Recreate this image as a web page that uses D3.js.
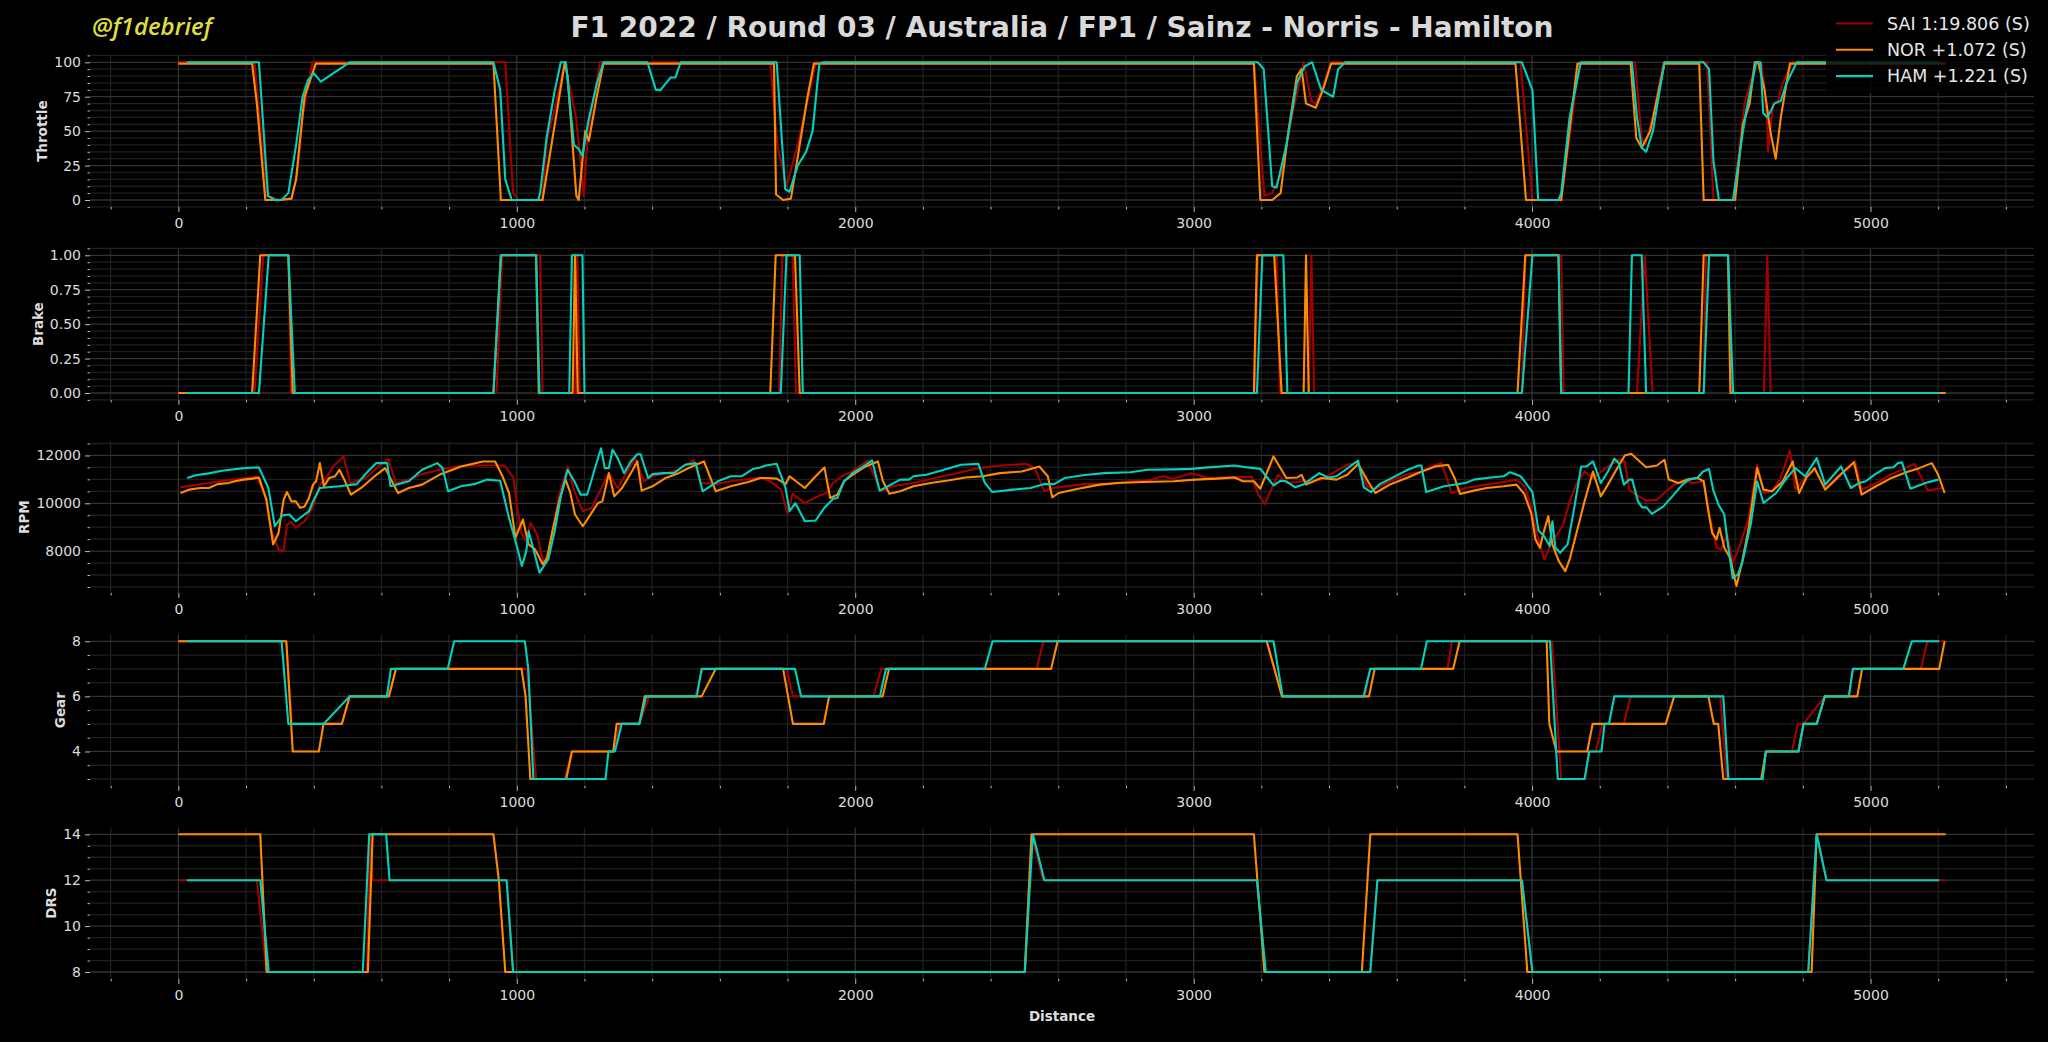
<!DOCTYPE html>
<html>
<head>
<meta charset="utf-8">
<script src="https://cdnjs.cloudflare.com/ajax/libs/d3/7.8.5/d3.min.js"></script>
<style>
  body { margin: 0; background: #000; overflow: hidden; }
  text { font-family: "DejaVu Sans", sans-serif; }
</style>
</head>
<body>
<div class="svg-container"></div>
<script>
// ---- data (distance in m, value) ----
const legendLabels = ["SAI 1:19.806 (S)", "NOR +1.072 (S)", "HAM +1.221 (S)"];
const channels = ["Throttle", "Brake", "RPM", "Gear", "DRS"];
const majorSteps = [25, 0.25, 2000, 2, 2];
const minorDivs = [5, 5, 4, 4, 4];
const xMajorStep = 1000, xMinorStep = 200;

const saiThrottle = [[0,100],[225,100],[262,3],[300,0],[334,1],[348,15],[360,40],[366,60],[396,100],[966,100],[989,5],[1005,0],[1075,0],[1090,45],[1111,65],[1142,100],[1175,60],[1198,3],[1210,50],[1246,100],[1749,100],[1770,40],[1797,10],[1830,40],[1884,100],[3178,100],[3209,3],[3232,5],[3260,20],[3290,60],[3325,100],[3348,72],[3361,70],[3386,85],[3406,100],[3966,100],[4001,0],[4086,0],[4140,100],[4304,100],[4324,45],[4334,40],[4357,60],[4388,100],[4517,100],[4536,0],[4594,0],[4628,70],[4662,100],[4677,100],[4685,85],[4695,55],[4697,35],[4712,70],[4726,72],[4741,85],[4770,100],[5222,100]];
const norThrottle = [[0,99],[218,99],[232,70],[257,0],[300,0],[334,1],[348,15],[358,40],[373,75],[406,99],[931,99],[953,0],[1076,0],[1142,100],[1150,90],[1176,3],[1183,0],[1202,50],[1213,43],[1236,75],[1256,99],[1760,99],[1766,4],[1787,0],[1810,1],[1836,40],[1859,75],[1878,99],[3178,99],[3197,0],[3232,0],[3257,5],[3280,50],[3305,90],[3319,95],[3332,70],[3361,67],[3382,80],[3406,99],[3951,99],[3982,0],[4086,0],[4134,99],[4291,99],[4308,45],[4324,38],[4349,50],[4391,99],[4494,99],[4507,0],[4600,0],[4623,55],[4643,70],[4658,100],[4668,100],[4687,80],[4704,50],[4720,30],[4735,60],[4752,85],[4762,99],[5222,99]];
const hamThrottle = [[25,100],[238,100],[265,3],[286,0],[305,0],[325,5],[348,40],[367,75],[383,87],[400,92],[421,86],[506,100],[931,100],[951,80],[966,15],[985,0],[1063,0],[1069,5],[1088,45],[1111,78],[1130,100],[1145,100],[1169,40],[1183,37],[1194,32],[1212,58],[1237,85],[1256,100],[1386,100],[1411,80],[1425,80],[1455,89],[1469,89],[1484,100],[1768,100],[1793,8],[1806,6],[1830,25],[1855,35],[1874,50],[1894,99],[1907,100],[3189,100],[3207,95],[3232,10],[3245,9],[3274,40],[3305,85],[3328,97],[3350,100],[3377,80],[3412,75],[3427,95],[3448,100],[3970,100],[4001,80],[4018,0],[4078,0],[4086,5],[4111,60],[4144,100],[4295,100],[4310,60],[4324,38],[4337,35],[4357,50],[4391,100],[4507,100],[4523,95],[4536,28],[4552,0],[4594,0],[4617,40],[4633,65],[4662,100],[4675,100],[4683,63],[4696,60],[4716,70],[4735,72],[4752,85],[4782,100],[5203,100]];

const saiBrake = [[0,0],[225,0],[251,1],[325,1],[333,0],[940,0],[957,1],[1069,1],[1076,0],[1172,0],[1179,1],[1186,0],[1775,0],[1785,1],[1815,1],[1825,0],[3180,0],[3190,1],[3245,1],[3255,0],[3340,0],[3348,1],[3356,0],[3970,0],[3980,1],[4086,1],[4093,0],[4310,0],[4333,1],[4356,0],[4507,0],[4514,1],[4579,1],[4590,0],[4685,0],[4695,1],[4705,0],[5222,0]];
const norBrake = [[0,0],[218,0],[242,1],[325,1],[338,0],[931,0],[953,1],[1057,1],[1065,0],[1165,0],[1172,1],[1180,0],[1749,0],[1765,1],[1822,1],[1836,0],[3178,0],[3187,1],[3238,1],[3260,0],[3325,0],[3332,1],[3340,0],[3957,0],[3980,1],[4078,1],[4086,0],[4494,0],[4507,1],[4579,1],[4586,0],[5222,0]];
const hamBrake = [[25,0],[238,0],[267,1],[325,1],[344,0],[931,0],[953,1],[1057,1],[1067,0],[1155,0],[1163,1],[1194,1],[1200,0],[1780,0],[1797,1],[1836,1],[1845,0],[3187,0],[3203,1],[3265,1],[3277,0],[3970,0],[4001,1],[4078,1],[4086,0],[4285,0],[4295,1],[4324,1],[4337,0],[4507,0],[4523,1],[4579,1],[4594,0],[5203,0]];

const saiRpm = [[6,10670],[39,10740],[90,10850],[154,10990],[219,11080],[231,11130],[260,10220],[276,8830],[296,8070],[311,8000],[321,9110],[334,9220],[347,8970],[373,9250],[398,9870],[418,10780],[437,11060],[457,11540],[488,11960],[508,10850],[553,11060],[591,11540],[620,11860],[643,10850],[681,10990],[720,11220],[771,11400],[823,11540],[861,11580],[964,11580],[990,11060],[1003,9670],[1015,8690],[1028,8420],[1041,9180],[1060,8690],[1080,7440],[1105,8560],[1125,10360],[1151,11540],[1170,10500],[1195,9670],[1221,9810],[1253,10710],[1272,11260],[1298,10640],[1350,11890],[1375,10920],[1401,11130],[1440,11260],[1478,11400],[1523,11820],[1542,10850],[1588,10800],[1632,10920],[1720,11080],[1749,10920],[1781,10570],[1800,9560],[1815,10390],[1851,10010],[1890,10290],[1915,10430],[1935,10850],[1960,11130],[1992,11330],[2037,11780],[2076,10500],[2108,10710],[2172,10850],[2236,11060],[2300,11260],[2364,11470],[2428,11580],[2505,11640],[2531,11470],[2559,10500],[2582,10640],[2672,10800],[2749,10800],[2813,10920],[2864,10940],[2909,11130],[2941,11030],[2992,11260],[3044,11060],[3108,11100],[3172,11100],[3191,10360],[3210,9970],[3249,11190],[3274,10850],[3326,10920],[3377,10990],[3415,11300],[3454,11610],[3486,11720],[3512,10710],[3533,10570],[3582,10940],[3633,11220],[3669,11300],[3701,11540],[3733,11680],[3762,10430],[3803,10640],[3866,10780],[3929,10920],[3954,10990],[3979,10710],[3998,9810],[4015,8690],[4036,7650],[4055,8280],[4080,8830],[4092,9110],[4111,10080],[4130,10780],[4155,11330],[4180,11060],[4218,11470],[4256,11820],[4274,11750],[4287,10570],[4306,10360],[4338,10110],[4369,10150],[4391,10430],[4419,10780],[4457,10920],[4476,10850],[4507,10920],[4523,9600],[4545,8140],[4558,8070],[4577,8690],[4593,7510],[4615,8280],[4640,9390],[4665,11610],[4684,10430],[4709,10500],[4734,11060],[4762,12190],[4778,10570],[4810,11130],[4835,11400],[4866,10640],[4898,11060],[4936,11470],[4955,11750],[4974,10570],[5011,10800],[5062,11220],[5130,11640],[5169,10530],[5213,10640]];
const norRpm = [[6,10430],[32,10570],[64,10640],[90,10640],[116,10800],[148,10850],[167,10920],[193,10990],[219,11030],[238,11080],[260,10150],[280,8280],[296,8760],[311,10150],[321,10470],[334,10080],[347,10080],[360,9810],[373,9870],[386,10220],[398,10780],[407,10920],[418,11680],[430,10710],[446,11060],[463,11130],[476,11400],[488,11060],[510,10360],[540,10640],[585,11190],[611,11470],[649,10430],[681,10640],[720,10780],[771,11190],[810,11400],[835,11540],[900,11750],[936,11750],[958,11130],[977,10430],[996,8560],[1018,9320],[1035,8280],[1054,8070],[1077,7440],[1090,7720],[1105,8830],[1125,10080],[1144,10990],[1157,10500],[1172,9530],[1195,9040],[1221,9600],[1240,10010],[1253,10080],[1272,11260],[1288,10290],[1311,10640],[1337,11260],[1356,11750],[1369,10530],[1401,10710],[1440,11060],[1478,11260],[1517,11540],[1553,11750],[1588,10500],[1632,10710],[1684,10890],[1720,11060],[1736,11060],[1768,11030],[1794,10800],[1806,11130],[1851,10640],[1883,11130],[1909,11500],[1926,10220],[1947,10360],[1967,10920],[1992,11190],[2031,11540],[2067,11750],[2082,10920],[2101,10400],[2133,10500],[2172,10710],[2223,10850],[2274,10950],[2326,11080],[2377,11130],[2428,11260],[2492,11330],[2544,11540],[2569,11130],[2582,10250],[2601,10430],[2659,10610],[2723,10780],[2774,10850],[2851,10890],[2941,10920],[3005,10990],[3069,11030],[3121,11080],[3146,10920],[3178,10920],[3197,10610],[3236,11960],[3274,11060],[3306,11080],[3319,11190],[3332,10780],[3377,11060],[3422,10990],[3454,11190],[3486,11640],[3518,10850],[3537,10430],[3582,10800],[3633,11080],[3669,11300],[3714,11540],[3752,11610],[3771,11060],[3787,10390],[3828,10530],[3866,10640],[3916,10710],[3954,10780],[3977,10390],[3998,9560],[4010,8490],[4023,8140],[4035,8830],[4048,9460],[4060,8280],[4079,7580],[4098,7160],[4111,7650],[4130,8690],[4155,10080],[4180,11330],[4203,10290],[4224,10780],[4249,11400],[4274,12000],[4293,12070],[4337,11510],[4369,11580],[4391,11820],[4404,10990],[4432,10850],[4457,10990],[4488,11060],[4507,10920],[4520,9740],[4532,8760],[4545,8490],[4554,8970],[4568,8140],[4585,7720],[4604,6540],[4621,7580],[4640,8970],[4665,11470],[4684,10570],[4709,10500],[4741,10920],[4770,11750],[4789,10430],[4810,11060],[4835,11470],[4866,10570],[4892,10920],[4923,11360],[4951,11720],[4974,10360],[5011,10670],[5062,11060],[5112,11330],[5144,11470],[5181,11680],[5200,11190],[5219,10430]];
const hamRpm = [[26,11056],[51,11170],[90,11250],[129,11360],[193,11470],[238,11500],[266,10640],[285,9040],[308,9500],[328,9530],[347,9250],[373,9530],[386,9670],[398,10080],[418,10640],[476,10710],[527,10800],[553,11220],[585,11680],[617,11680],[627,10710],[681,10920],[720,11400],[765,11680],[781,11470],[797,10500],[835,10710],[874,10800],[913,10990],[951,10940],[977,9390],[996,8420],[1015,7380],[1028,8000],[1035,8830],[1048,8140],[1067,7100],[1093,7650],[1112,8830],[1131,10360],[1150,11400],[1170,10920],[1189,10360],[1208,10360],[1234,11610],[1249,12300],[1260,11470],[1272,11470],[1283,12240],[1298,11890],[1317,11260],[1337,11750],[1356,12050],[1366,12050],[1388,11056],[1401,11220],[1433,11260],[1465,11260],[1497,11610],[1529,11680],[1549,10500],[1594,10920],[1632,11130],[1664,11130],[1697,11430],[1720,11500],[1736,11580],[1768,11650],[1794,10640],[1806,9670],[1823,10010],[1851,9250],[1883,9280],[1909,9810],[1935,10190],[1947,10220],[1967,10920],[1992,11260],[2031,11610],[2050,11790],[2072,10530],[2108,10800],[2133,10990],[2159,10990],[2172,11130],[2210,11190],[2262,11400],[2313,11610],[2364,11650],[2383,10850],[2405,10470],[2467,10570],[2518,10640],[2556,10800],[2588,10800],[2620,11060],[2672,11170],[2736,11260],[2813,11300],[2864,11400],[2941,11420],[2992,11440],[3044,11500],[3121,11580],[3159,11500],[3197,11440],[3236,10750],[3256,10940],[3274,10920],[3300,10670],[3326,10800],[3371,11260],[3397,11080],[3422,11130],[3486,11780],[3503,10670],[3524,10470],[3550,10800],[3582,11030],[3633,11400],[3665,11580],[3673,11580],[3687,10470],[3740,10710],[3803,10850],[3828,10990],[3878,11080],[3916,11130],[3935,11300],[3966,11130],[3985,10780],[4001,10470],[4019,8860],[4035,8630],[4052,8210],[4060,9250],[4069,8140],[4083,7930],[4105,8280],[4123,9670],[4145,11540],[4161,11540],[4180,11750],[4203,10850],[4224,11330],[4243,11860],[4256,11680],[4271,10780],[4287,10990],[4296,10990],[4313,10080],[4325,9830],[4338,9830],[4354,9560],[4388,9870],[4419,10360],[4444,10780],[4463,10990],[4488,11060],[4505,11330],[4523,11430],[4535,10570],[4551,9940],[4568,9530],[4576,8560],[4593,6860],[4608,7030],[4621,7510],[4646,9110],[4665,10920],[4684,10010],[4721,10430],[4753,11060],[4778,11470],[4807,11130],[4822,11470],[4841,11890],[4866,10780],[4913,11540],[4942,10640],[4967,10850],[4986,10920],[5011,11190],[5043,11470],[5068,11510],[5081,11680],[5093,11710],[5118,10610],[5162,10850],[5200,10990]];

const saiGear = [[0,8],[319,8],[335,5],[483,5],[506,6],[622,6],[643,7],[1030,7],[1057,3],[1142,3],[1163,4],[1285,4],[1304,5],[1362,5],[1391,6],[1527,6],[1550,7],[1797,7],[1816,6],[2054,6],[2077,7],[2536,7],[2556,8],[3216,8],[3261,6],[3506,6],[3522,7],[3750,7],[3763,8],[4059,8],[4086,3],[4157,3],[4167,4],[4188,4],[4208,5],[4271,5],[4291,6],[4556,6],[4575,3],[4681,3],[4691,4],[4768,4],[4785,5],[4802,5],[4865,6],[4936,6],[4948,7],[5149,7],[5168,8],[5222,8]];
const norGear = [[0,8],[319,8],[338,4],[415,4],[429,5],[483,5],[506,6],[622,6],[643,7],[1014,7],[1026,6],[1040,3],[1146,3],[1163,4],[1285,4],[1295,5],[1362,5],[1378,6],[1546,6],[1588,7],[1787,7],[1816,5],[1907,5],[1923,6],[2081,6],[2100,7],[2579,7],[2598,8],[3216,8],[3261,6],[3518,6],[3535,7],[3767,7],[3786,8],[4043,8],[4051,5],[4072,4],[4163,4],[4179,5],[4395,5],[4420,6],[4521,6],[4537,5],[4550,5],[4565,3],[4677,3],[4691,4],[4787,4],[4802,5],[4841,5],[4865,6],[4961,6],[4975,7],[5203,7],[5219,8]];
const hamGear = [[25,8],[305,8],[325,5],[429,5],[506,6],[616,6],[628,7],[796,7],[815,8],[1024,8],[1034,7],[1049,3],[1262,3],[1271,4],[1290,4],[1310,5],[1362,5],[1382,6],[1532,6],[1546,7],[1822,7],[1840,6],[2073,6],[2091,7],[2383,7],[2406,8],[3236,8],[3263,6],[3502,6],[3522,7],[3672,7],[3689,8],[4053,8],[4076,3],[4155,3],[4169,4],[4205,4],[4214,5],[4227,5],[4243,6],[4565,6],[4580,3],[4681,3],[4691,4],[4787,4],[4802,5],[4841,5],[4865,6],[4936,6],[4948,7],[5097,7],[5122,8],[5203,8]];

const saiDrs = [[0,12],[232,12],[261,8],[557,8],[566,14],[574,12],[970,12],[989,8],[2501,8],[2521,14],[2555,12],[3187,12],[3213,8],[3522,8],[3543,12],[3970,12],[4001,8],[4816,8],[4841,14],[4870,12],[5222,12]];
const norDrs = [[0,14],[242,14],[261,8],[560,8],[574,14],[931,14],[947,12],[966,8],[2501,8],[2521,14],[3178,14],[3209,8],[3497,8],[3522,14],[3957,14],[3986,8],[4826,8],[4841,14],[5222,14]];
const hamDrs = [[25,12],[242,12],[267,8],[545,8],[564,14],[614,14],[624,12],[970,12],[989,8],[2501,8],[2525,14],[2559,12],[3187,12],[3213,8],[3522,8],[3543,12],[3970,12],[4001,8],[4816,8],[4841,14],[4870,12],[5203,12]];

const panelData = [
  [saiThrottle, norThrottle, hamThrottle],
  [saiBrake, norBrake, hamBrake],
  [saiRpm, norRpm, hamRpm],
  [saiGear, norGear, hamGear],
  [saiDrs, norDrs, hamDrs]
];
const colors = ["#a50000", "#ff8c00", "#00d2be"];

// ---- layout ----
const w = 2048, h = 1042;
const left = 90, right = 2034, top0 = 55.4, panelH = 151.5, panelStep = 193;

const svg = d3.select(".svg-container")
  .append("svg")
  .attr("width", w)
  .attr("height", h)
  .style("background", "#000");

// shared x scale with 5% margins like matplotlib
const allX = panelData.flat(2).filter((d, i) => i % 2 === 0);
const xExt = d3.extent(panelData.flat().flat(), d => d[0]);
const xPad = (xExt[1] - xExt[0]) * 0.05;
const x = d3.scaleLinear().domain([xExt[0] - xPad, xExt[1] + xPad]).range([left, right]);

function stepTicks(lo, hi, step) {
  const out = [];
  for (let k = Math.ceil(lo / step - 1e-9); k * step <= hi + 1e-9; k++) out.push(+(k * step).toFixed(6));
  return out;
}
const xMajor = stepTicks(0, x.domain()[1], xMajorStep);
const xMinor = stepTicks(x.domain()[0], x.domain()[1], xMinorStep).filter(v => v % xMajorStep !== 0);

function drawPanel(i) {
  const y0 = top0 + i * panelStep, y1 = y0 + panelH;
  const series = panelData[i];
  const yExt = d3.extent(series.flat(), d => d[1]);
  const yPad = (yExt[1] - yExt[0]) * 0.05;
  const y = d3.scaleLinear().domain([yExt[0] - yPad, yExt[1] + yPad]).range([y1, y0]);
  const step = majorSteps[i];
  const yMajor = stepTicks(y.domain()[0], y.domain()[1], step);
  const yMinor = stepTicks(y.domain()[0], y.domain()[1], step / minorDivs[i])
      .filter(v => Math.abs(v / step - Math.round(v / step)) > 1e-6);

  const g = svg.append("g").attr("class", "panel");

  // grid
  g.selectAll(".gy-min").data(yMinor).enter().append("line")
    .attr("x1", left).attr("x2", right).attr("y1", d => y(d)).attr("y2", d => y(d))
    .attr("stroke", "#1f1f1f").attr("stroke-width", 1.3);
  g.selectAll(".gx-min").data(xMinor).enter().append("line")
    .attr("x1", d => x(d)).attr("x2", d => x(d)).attr("y1", y0).attr("y2", y1)
    .attr("stroke", "#1f1f1f").attr("stroke-width", 1.3);
  g.selectAll(".gy-maj").data(yMajor).enter().append("line")
    .attr("x1", left).attr("x2", right).attr("y1", d => y(d)).attr("y2", d => y(d))
    .attr("stroke", "#333").attr("stroke-width", 1.3);
  g.selectAll(".gx-maj").data(xMajor).enter().append("line")
    .attr("x1", d => x(d)).attr("x2", d => x(d)).attr("y1", y0).attr("y2", y1)
    .attr("stroke", "#333").attr("stroke-width", 1.3);

  // lines
  const line = d3.line().x(d => x(d[0])).y(d => y(d[1]));
  series.forEach((s, k) => {
    g.append("path").datum(s)
      .attr("d", line)
      .attr("fill", "none")
      .attr("stroke", colors[k])
      .attr("stroke-width", 2.1)
      .attr("stroke-linejoin", "round");
  });

  // axes
  const fmt = i === 1 ? d3.format(".2f") : d3.format("d");
  const xa = g.append("g").attr("transform", "translate(0," + y1 + ")")
    .call(d3.axisBottom(x).tickValues(xMajor).tickSize(5).tickPadding(6).tickFormat(d3.format("d")));
  const xm = g.append("g").attr("transform", "translate(0," + y1 + ")")
    .call(d3.axisBottom(x).tickValues(xMinor).tickSize(2.5).tickFormat(""));
  const ya = g.append("g").attr("transform", "translate(" + left + ",0)")
    .call(d3.axisLeft(y).tickValues(yMajor).tickSize(5).tickPadding(4).tickFormat(fmt));
  const ym = g.append("g").attr("transform", "translate(" + left + ",0)")
    .call(d3.axisLeft(y).tickValues(yMinor).tickSize(2.5).tickFormat(""));
  [xa, xm, ya, ym].forEach(a => {
    a.select(".domain").remove();
    a.selectAll("line").attr("stroke", "#bbb").attr("stroke-width", 1);
    a.selectAll("text").attr("fill", "#dcdcdc").style("font-size", "14px")
      .style("font-family", '"DejaVu Sans", sans-serif');
  });

  // y label, placed left of the widest tick label
  let maxW = 0;
  ya.selectAll("text").each(function () { maxW = Math.max(maxW, this.getComputedTextLength()); });
  const lx = left - 9 - maxW - 7;
  g.append("text")
    .attr("transform", "translate(" + lx + "," + (y0 + panelH / 2) + ") rotate(-90)")
    .attr("text-anchor", "middle")
    .attr("fill", "#dcdcdc")
    .style("font-size", "13.5px")
    .style("font-weight", "bold")
    .text(channels[i]);
}

channels.forEach((c, i) => drawPanel(i));

// x label
svg.append("text")
  .attr("x", (left + right) / 2).attr("y", 1021)
  .attr("text-anchor", "middle")
  .attr("fill", "#dcdcdc")
  .style("font-size", "13.5px").style("font-weight", "bold")
  .text("Distance");

// title and tag
svg.append("text")
  .attr("x", (left + right) / 2).attr("y", 37)
  .attr("text-anchor", "middle")
  .attr("fill", "#d9d9d9")
  .style("font-size", "28px").style("font-weight", "bold")
  .text("F1 2022 / Round 03 / Australia / FP1 / Sainz - Norris - Hamilton");

svg.append("text")
  .attr("x", 92).attr("y", 35)
  .attr("fill", "#dede3f")
  .style("font-family", '"Open Sans", sans-serif')
  .style("font-size", "24px").style("font-style", "italic").style("font-weight", "600")
  .text("@f1debrief");

// legend
const lg = svg.append("g");
lg.append("rect").attr("x", 1826).attr("y", 5).attr("width", 214).attr("height", 88)
  .attr("fill", "#000").attr("opacity", 0.8);
legendLabels.forEach((t, k) => {
  const ly = 23.5 + k * 26.3;
  lg.append("line").attr("x1", 1836).attr("x2", 1873).attr("y1", ly).attr("y2", ly)
    .attr("stroke", colors[k]).attr("stroke-width", 2.1);
  lg.append("text").attr("x", 1887).attr("y", ly).attr("dy", "0.35em")
    .attr("fill", "#e6e6e6").style("font-size", "17.5px").text(t);
});
</script>
</body>
</html>
